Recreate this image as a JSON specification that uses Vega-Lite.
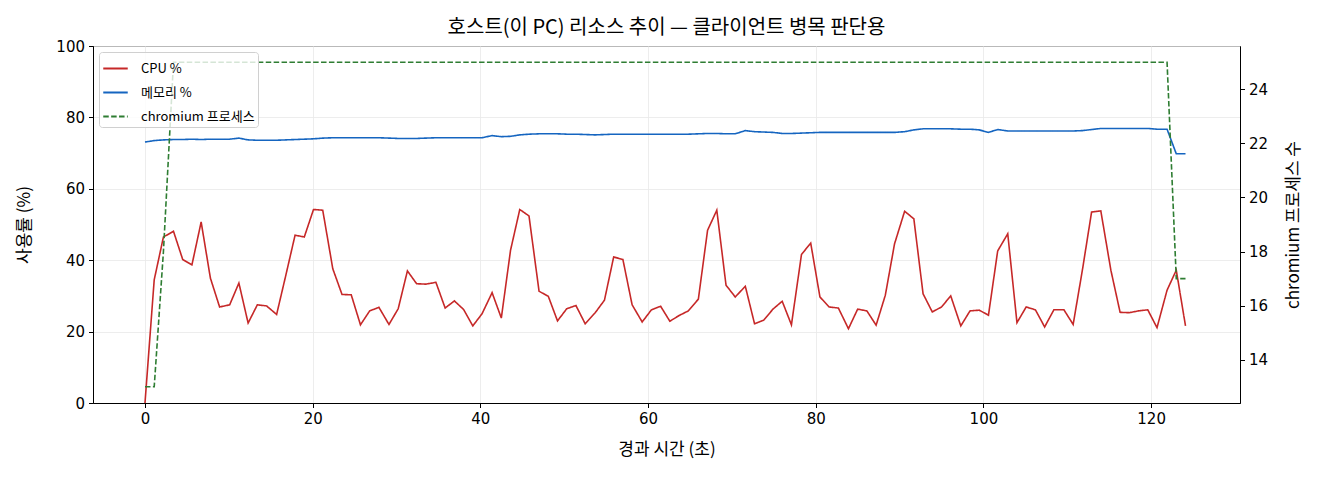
{
"$schema": "https://vega.github.io/schema/vega-lite/v6.json",
"width": 1147, "height": 357,
"autosize": {"type": "none"},
"padding": {"left": 93, "top": 46, "right": 80, "bottom": 77},
"background": "white",
"title": {"text": "호스트(이 PC) 리소스 추이 — 클라이언트 병목 판단용", "fontSize": 20, "fontWeight": "normal", "color": "#000", "offset": 1, "anchor": "middle"},
"config": {
  "font": "Noto Sans CJK KR",
  "view": {"stroke": "#000", "strokeWidth": 1},
  "axis": {"domainColor": "#000", "tickColor": "#000", "labelColor": "#000", "titleColor": "#000", "labelFont": "DejaVu Sans", "labelFontSize": 15, "titleFontSize": 17, "titleFontWeight": "normal", "tickSize": 4.5, "labelPadding": 4, "gridColor": "#e8e8e8", "gridWidth": 0.8},
  "legend": {"orient": "top-left", "offset": 6, "padding": 3, "rowPadding": 3, "strokeColor": "#d0d0d0", "fillColor": "rgba(255,255,255,0.8)", "cornerRadius": 3, "symbolType": "stroke", "symbolStrokeWidth": 2, "symbolSize": 600, "labelFontSize": 13, "labelColor": "#000", "labelOffset": 12}
},
"data": {"values": [
{"t":0.0,"cpu":0,"mem":73.1,"proc":13},
{"t":1.1,"cpu":34.5,"mem":73.5,"proc":13},
{"t":2.2,"cpu":46.5,"mem":73.7,"proc":18},
{"t":3.4,"cpu":48.1,"mem":73.8,"proc":25},
{"t":4.5,"cpu":40.2,"mem":73.8,"proc":25},
{"t":5.6,"cpu":38.7,"mem":73.9,"proc":25},
{"t":6.7,"cpu":50.7,"mem":73.8,"proc":25},
{"t":7.8,"cpu":35.0,"mem":73.9,"proc":25},
{"t":8.9,"cpu":26.9,"mem":73.9,"proc":25},
{"t":10.1,"cpu":27.5,"mem":73.9,"proc":25},
{"t":11.2,"cpu":33.6,"mem":74.2,"proc":25},
{"t":12.3,"cpu":22.4,"mem":73.7,"proc":25},
{"t":13.4,"cpu":27.5,"mem":73.6,"proc":25},
{"t":14.5,"cpu":27.2,"mem":73.6,"proc":25},
{"t":15.7,"cpu":24.8,"mem":73.6,"proc":25},
{"t":16.8,"cpu":35.8,"mem":73.7,"proc":25},
{"t":17.9,"cpu":47.0,"mem":73.8,"proc":25},
{"t":19.0,"cpu":46.5,"mem":73.9,"proc":25},
{"t":20.1,"cpu":54.2,"mem":74.0,"proc":25},
{"t":21.2,"cpu":54.0,"mem":74.2,"proc":25},
{"t":22.4,"cpu":37.6,"mem":74.3,"proc":25},
{"t":23.5,"cpu":30.4,"mem":74.3,"proc":25},
{"t":24.6,"cpu":30.3,"mem":74.3,"proc":25},
{"t":25.7,"cpu":21.9,"mem":74.3,"proc":25},
{"t":26.8,"cpu":25.8,"mem":74.3,"proc":25},
{"t":27.9,"cpu":26.8,"mem":74.3,"proc":25},
{"t":29.1,"cpu":22.0,"mem":74.2,"proc":25},
{"t":30.2,"cpu":26.4,"mem":74.1,"proc":25},
{"t":31.3,"cpu":37.0,"mem":74.1,"proc":25},
{"t":32.4,"cpu":33.4,"mem":74.1,"proc":25},
{"t":33.5,"cpu":33.3,"mem":74.2,"proc":25},
{"t":34.7,"cpu":33.8,"mem":74.3,"proc":25},
{"t":35.8,"cpu":26.6,"mem":74.3,"proc":25},
{"t":36.9,"cpu":28.6,"mem":74.3,"proc":25},
{"t":38.0,"cpu":26.2,"mem":74.3,"proc":25},
{"t":39.1,"cpu":21.6,"mem":74.3,"proc":25},
{"t":40.2,"cpu":25.0,"mem":74.3,"proc":25},
{"t":41.4,"cpu":30.9,"mem":74.9,"proc":25},
{"t":42.5,"cpu":23.8,"mem":74.6,"proc":25},
{"t":43.6,"cpu":42.8,"mem":74.7,"proc":25},
{"t":44.7,"cpu":54.2,"mem":75.1,"proc":25},
{"t":45.8,"cpu":52.4,"mem":75.3,"proc":25},
{"t":47.0,"cpu":31.3,"mem":75.4,"proc":25},
{"t":48.1,"cpu":29.9,"mem":75.4,"proc":25},
{"t":49.2,"cpu":23.0,"mem":75.4,"proc":25},
{"t":50.3,"cpu":26.4,"mem":75.3,"proc":25},
{"t":51.4,"cpu":27.3,"mem":75.3,"proc":25},
{"t":52.5,"cpu":22.2,"mem":75.2,"proc":25},
{"t":53.7,"cpu":25.3,"mem":75.1,"proc":25},
{"t":54.8,"cpu":28.8,"mem":75.2,"proc":25},
{"t":55.9,"cpu":40.9,"mem":75.3,"proc":25},
{"t":57.0,"cpu":40.2,"mem":75.3,"proc":25},
{"t":58.1,"cpu":27.5,"mem":75.3,"proc":25},
{"t":59.3,"cpu":22.7,"mem":75.3,"proc":25},
{"t":60.4,"cpu":26.1,"mem":75.3,"proc":25},
{"t":61.5,"cpu":27.1,"mem":75.3,"proc":25},
{"t":62.6,"cpu":22.9,"mem":75.3,"proc":25},
{"t":63.7,"cpu":24.5,"mem":75.3,"proc":25},
{"t":64.8,"cpu":25.8,"mem":75.3,"proc":25},
{"t":66.0,"cpu":29.1,"mem":75.4,"proc":25},
{"t":67.1,"cpu":48.4,"mem":75.5,"proc":25},
{"t":68.2,"cpu":54.0,"mem":75.5,"proc":25},
{"t":69.3,"cpu":33.0,"mem":75.4,"proc":25},
{"t":70.4,"cpu":29.7,"mem":75.4,"proc":25},
{"t":71.6,"cpu":32.7,"mem":76.3,"proc":25},
{"t":72.7,"cpu":22.2,"mem":76.0,"proc":25},
{"t":73.8,"cpu":23.2,"mem":75.9,"proc":25},
{"t":74.9,"cpu":26.3,"mem":75.8,"proc":25},
{"t":76.0,"cpu":28.5,"mem":75.5,"proc":25},
{"t":77.1,"cpu":21.9,"mem":75.5,"proc":25},
{"t":78.3,"cpu":41.6,"mem":75.6,"proc":25},
{"t":79.4,"cpu":44.8,"mem":75.7,"proc":25},
{"t":80.5,"cpu":29.7,"mem":75.8,"proc":25},
{"t":81.6,"cpu":26.9,"mem":75.8,"proc":25},
{"t":82.7,"cpu":26.6,"mem":75.8,"proc":25},
{"t":83.9,"cpu":20.8,"mem":75.8,"proc":25},
{"t":85.0,"cpu":26.3,"mem":75.8,"proc":25},
{"t":86.1,"cpu":25.8,"mem":75.8,"proc":25},
{"t":87.2,"cpu":21.8,"mem":75.8,"proc":25},
{"t":88.3,"cpu":30.2,"mem":75.8,"proc":25},
{"t":89.4,"cpu":44.6,"mem":75.8,"proc":25},
{"t":90.6,"cpu":53.7,"mem":76.0,"proc":25},
{"t":91.7,"cpu":51.6,"mem":76.5,"proc":25},
{"t":92.8,"cpu":30.6,"mem":76.8,"proc":25},
{"t":93.9,"cpu":25.5,"mem":76.8,"proc":25},
{"t":95.0,"cpu":26.9,"mem":76.8,"proc":25},
{"t":96.1,"cpu":30.0,"mem":76.8,"proc":25},
{"t":97.3,"cpu":21.6,"mem":76.7,"proc":25},
{"t":98.4,"cpu":25.8,"mem":76.7,"proc":25},
{"t":99.5,"cpu":26.0,"mem":76.5,"proc":25},
{"t":100.6,"cpu":24.6,"mem":75.8,"proc":25},
{"t":101.7,"cpu":42.6,"mem":76.6,"proc":25},
{"t":102.9,"cpu":47.4,"mem":76.2,"proc":25},
{"t":104.0,"cpu":22.5,"mem":76.2,"proc":25},
{"t":105.1,"cpu":26.9,"mem":76.2,"proc":25},
{"t":106.2,"cpu":26.1,"mem":76.2,"proc":25},
{"t":107.3,"cpu":21.3,"mem":76.2,"proc":25},
{"t":108.4,"cpu":26.1,"mem":76.2,"proc":25},
{"t":109.6,"cpu":26.1,"mem":76.2,"proc":25},
{"t":110.7,"cpu":22.0,"mem":76.2,"proc":25},
{"t":111.8,"cpu":37.2,"mem":76.3,"proc":25},
{"t":112.9,"cpu":53.5,"mem":76.6,"proc":25},
{"t":114.0,"cpu":53.8,"mem":76.9,"proc":25},
{"t":115.2,"cpu":37.2,"mem":76.9,"proc":25},
{"t":116.3,"cpu":25.4,"mem":76.9,"proc":25},
{"t":117.4,"cpu":25.3,"mem":76.9,"proc":25},
{"t":118.5,"cpu":25.8,"mem":76.9,"proc":25},
{"t":119.6,"cpu":26.1,"mem":76.9,"proc":25},
{"t":120.7,"cpu":21.1,"mem":76.7,"proc":25},
{"t":121.9,"cpu":31.6,"mem":76.7,"proc":25},
{"t":123.0,"cpu":37.2,"mem":69.8,"proc":17},
{"t":124.1,"cpu":21.6,"mem":69.8,"proc":17}
]},
"layer": [
  {
    "transform": [{"fold": ["cpu", "mem"], "as": ["series", "value"]}],
    "mark": {"type": "line", "strokeWidth": 1.6},
    "encoding": {
      "x": {"field": "t", "type": "quantitative", "scale": {"domain": [-6.2, 130.6], "nice": false, "zero": false}, "axis": {"values": [0, 20, 40, 60, 80, 100, 120], "title": "경과 시간 (초)", "grid": true, "titlePadding": 15}},
      "y": {"field": "value", "type": "quantitative", "scale": {"domain": [0, 100], "nice": false}, "axis": {"values": [0, 20, 40, 60, 80, 100], "title": "사용률 (%)", "grid": true, "titlePadding": 22}},
      "color": {"field": "series", "type": "nominal", "scale": {"domain": ["cpu", "mem", "proc"], "range": ["#c62828", "#1565c0", "#2e7d32"]}, "legend": {"title": null, "labelExpr": "datum.label == 'cpu' ? 'CPU %' : datum.label == 'mem' ? '메모리 %' : 'chromium 프로세스'"}},
      "strokeDash": {"field": "series", "type": "nominal", "scale": {"domain": ["cpu", "mem", "proc"], "range": [[1, 0], [1, 0], [5.5, 2.4]]}, "legend": {"title": null, "labelExpr": "datum.label == 'cpu' ? 'CPU %' : datum.label == 'mem' ? '메모리 %' : 'chromium 프로세스'"}}
    }
  },
  {
    "transform": [{"fold": ["proc"], "as": ["series", "value"]}],
    "mark": {"type": "line", "strokeWidth": 1.6},
    "encoding": {
      "x": {"field": "t", "type": "quantitative"},
      "y": {"field": "value", "type": "quantitative", "scale": {"domain": [12.4, 25.6], "nice": false, "zero": false}, "axis": {"orient": "right", "values": [14, 16, 18, 20, 22, 24], "title": "chromium 프로세스 수", "grid": false, "titleAngle": 270, "titleBaseline": "top", "titlePadding": 18}},
      "color": {"field": "series", "type": "nominal"},
      "strokeDash": {"field": "series", "type": "nominal"}
    }
  }
],
"resolve": {"scale": {"y": "independent"}}
}
